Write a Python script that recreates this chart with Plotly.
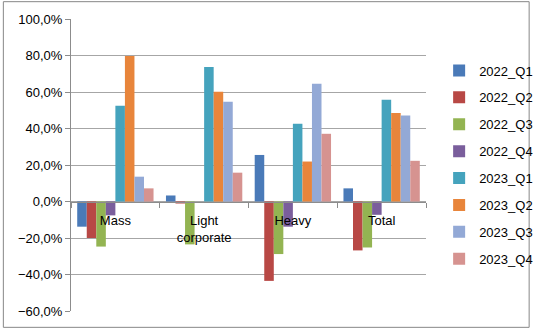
import plotly.graph_objects as go

categories = ["Mass", "Light<br>corporate", "Heavy", "Total"]
series_names = ["2022_Q1", "2022_Q2", "2022_Q3", "2022_Q4",
                "2023_Q1", "2023_Q2", "2023_Q3", "2023_Q4"]
values = {
    "2022_Q1": [-13.8, 3.3, 25.5, 7.2],
    "2022_Q2": [-20.0, -1.1, -43.5, -26.8],
    "2022_Q3": [-24.7, -23.5, -28.8, -25.2],
    "2022_Q4": [-7.6, 0.0, -13.8, -7.3],
    "2023_Q1": [52.5, 73.7, 42.6, 55.8],
    "2023_Q2": [79.7, 60.1, 21.9, 48.5],
    "2023_Q3": [13.6, 54.7, 64.5, 47.1],
    "2023_Q4": [7.2, 15.8, 37.1, 22.3],
}
colors = ["#4A7AB8", "#B84845", "#93B452", "#7A5E9C",
          "#45A3BD", "#E8853B", "#93A9D6", "#D69390"]

y_min, y_max = -60, 100

fig = go.Figure()
for name, col in zip(series_names, colors):
    fig.add_trace(go.Bar(
        x=categories, y=values[name], name=name, legendgroup=name,
        marker=dict(color=col, line=dict(width=0)),
    ))

W, H = 550, 331
ml, mr, mt, mb = 71, 109, 18, 18
pw, ph = W - ml - mr, H - mt - mb

fig.update_layout(
    width=W, height=H,
    margin=dict(l=ml, r=mr, t=mt, b=mb),
    paper_bgcolor="white", plot_bgcolor="white",
    barmode="group", bargap=0.14, bargroupgap=0,
    separators=",.",
    font=dict(family="Liberation Sans, Arial, sans-serif", size=13, color="#000000"),
    showlegend=True,
    legend=dict(x=1.037, y=0.875, xanchor="left", yanchor="top",
                font=dict(size=13), tracegroupgap=7,
                bgcolor="rgba(0,0,0,0)"),
    xaxis=dict(type="category", anchor="free",
               position=(0 - y_min) / (y_max - y_min),
               showline=True, linecolor="#8C8C8C", linewidth=1,
               ticks="outside", tickson="boundaries", ticklen=5,
               tickcolor="#8C8C8C", showgrid=False,
               ticklabelstandoff=7,
               tickfont=dict(size=13)),
    yaxis=dict(range=[y_min, y_max], dtick=20, tick0=0,
               tickformat=".1f", ticksuffix="%",
               showline=True, linecolor="#8C8C8C", linewidth=1,
               ticks="outside", ticklen=5, tickcolor="#8C8C8C",
               showgrid=True, gridcolor="#A6A6A6", gridwidth=1,
               zeroline=False, tickfont=dict(size=13)),
    shapes=[dict(type="rect", xref="paper", yref="paper",
                 x0=-(ml - 0.5) / pw, x1=1 + (mr - 1.5) / pw,
                 y0=-(mb - 1.5) / ph, y1=1 + (mt - 0.5) / ph,
                 line=dict(color="#878787", width=1), layer="below")],
)

fig.write_html("out.html")
